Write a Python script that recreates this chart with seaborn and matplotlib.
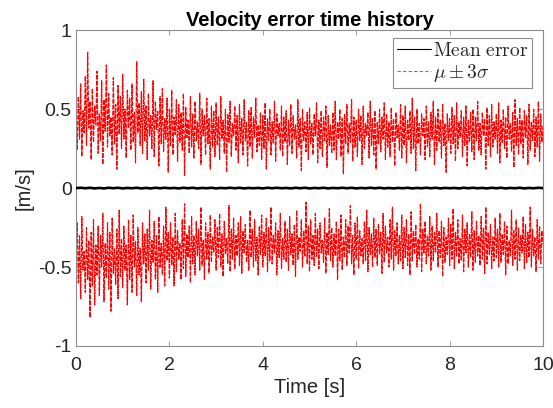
import numpy as np
import pandas as pd
import matplotlib
matplotlib.use("Agg")
import matplotlib.pyplot as plt
from matplotlib.lines import Line2D
import seaborn as sns

# ---- data, values in hundredths of m/s ----
dt_band = 0.025
upper_cm = [
    42, 24, 58, 31, 66, 20, 49, 35, 71, 27, 86, 38, 55, 18, 63, 29, 52, 40, 74, 22,
    47, 30, 68, 15, 56, 36, 78, 26, 60, 33, 45, 21, 70, 28, 53, 12, 65, 34, 58, 25,
    72, 31, 50, 19, 62, 38, 57, 24, 66, 29, 48, 16, 80, 35, 54, 27, 61, 22, 69, 30,
    52, 18, 60, 33, 46, 25, 68, 20, 55, 37, 49, 14, 58, 28, 63, 23, 44, 31, 57, 10,
    50, 27, 62, 21, 45, 34, 56, 17, 53, 29, 48, 24, 60, 8, 51, 32, 43, 22, 58, 26,
    47, 19, 55, 30, 42, 25, 60, 15, 50, 33, 46, 21, 57, 28, 44, 12, 52, 26, 49, 20,
    54, 27, 45, 18, 58, 31, 43, 22, 50, 10, 47, 29, 55, 20, 41, 33, 52, 24, 46, 16,
    53, 28, 44, 21, 56, 30, 42, 14, 49, 26, 51, 19, 45, 32, 57, 23, 40, 27, 48, 18,
    46, 25, 54, 12, 44, 30, 50, 21, 42, 28, 55, 17, 47, 33, 41, 24, 52, 20, 45, 29,
    49, 15, 43, 27, 53, 22, 46, 31, 40, 19, 56, 26, 44, 11, 50, 30, 42, 23, 48, 18,
    51, 28, 41, 21, 47, 33, 54, 16, 43, 25, 49, 20, 45, 30, 52, 13, 46, 27, 40, 22,
    48, 24, 55, 18, 42, 31, 50, 20, 44, 9, 47, 28, 53, 22, 41, 29, 56, 17, 45, 26,
    43, 20, 50, 30, 46, 15, 52, 25, 41, 33, 48, 19, 55, 27, 44, 21, 49, 12, 42, 28,
    50, 23, 45, 31, 54, 18, 47, 26, 42, 20, 51, 29, 44, 14, 48, 32, 40, 24, 53, 19,
    46, 27, 52, 16, 43, 30, 49, 22, 57, 25, 45, 11, 50, 28, 41, 21, 47, 33, 44, 18,
    52, 26, 42, 20, 48, 31, 55, 15, 45, 24, 50, 29, 43, 19, 53, 27, 41, 10, 47, 30,
    44, 22, 51, 28, 46, 17, 54, 25, 42, 32, 49, 20, 45, 27, 52, 14, 43, 29, 48, 23,
    50, 18, 45, 30, 55, 24, 41, 21, 48, 33, 44, 12, 51, 27, 46, 20, 53, 26, 42, 31,
    47, 22, 54, 16, 43, 29, 50, 25, 45, 19, 52, 31, 41, 23, 48, 13, 56, 27, 44, 21,
    51, 28, 43, 19, 49, 32, 46, 15, 53, 24, 42, 30, 50, 20, 45, 26, 55, 17, 47, 29,
    40]
lower_cm = [
    -38, -22, -60, -30, -70, -18, -52, -40, -66, -25, -58, -33, -82, -28, -62, -20, -74, -36, -55, -24,
    -68, -30, -50, -16, -72, -35, -57, -22, -64, -28, -78, -19, -54, -38, -61, -26, -70, -14, -56, -32,
    -63, -24, -52, -36, -74, -20, -58, -30, -66, -17, -50, -34, -68, -25, -55, -38, -72, -22, -48, -29,
    -60, -26, -52, -14, -64, -33, -47, -21, -58, -30, -66, -18, -50, -35, -55, -24, -62, -12, -46, -28,
    -57, -22, -49, -31, -62, -16, -53, -27, -45, -35, -58, -20, -51, -10, -56, -29, -44, -24, -60, -18,
    -48, -30, -55, -21, -43, -26, -52, -12, -49, -33, -58, -22, -45, -28, -54, -17, -47, -31, -41, -20,
    -52, -25, -44, -16, -50, -29, -56, -21, -42, -32, -48, -11, -53, -26, -45, -19, -51, -30, -43, -22,
    -49, -18, -54, -27, -41, -23, -47, -33, -52, -14, -44, -26, -50, -20, -46, -31, -55, -24, -42, -17,
    -50, -28, -43, -19, -53, -25, -46, -12, -48, -30, -41, -22, -55, -27, -44, -16, -51, -32, -45, -21,
    -47, -26, -52, -18, -42, -29, -49, -23, -56, -14, -45, -31, -40, -20, -50, -27, -43, -9, -48, -24,
    -53, -20, -45, -30, -49, -16, -44, -26, -51, -22, -41, -33, -47, -19, -54, -28, -42, -13, -46, -25,
    -50, -29, -43, -21, -58, -26, -46, -17, -52, -31, -44, -20, -49, -24, -41, -11, -48, -30, -55, -22,
    -45, -18, -51, -27, -43, -32, -48, -21, -46, -14, -53, -25, -42, -29, -50, -19, -44, -26, -49, -23,
    -42, -28, -54, -16, -47, -24, -41, -31, -50, -20, -45, -12, -52, -27, -43, -22, -48, -30, -46, -17,
    -51, -25, -44, -20, -49, -29, -55, -15, -46, -27, -42, -23, -50, -32, -45, -10, -53, -26, -41, -21,
    -48, -30, -43, -18, -52, -24, -46, -28, -41, -16, -50, -27, -44, -21, -56, -25, -47, -31, -42, -19,
    -49, -23, -45, -13, -51, -28, -43, -20, -48, -32, -46, -17, -53, -26, -41, -22, -50, -29, -44, -15,
    -52, -27, -47, -21, -43, -30, -49, -18, -45, -25, -54, -12, -48, -28, -42, -23, -51, -31, -46, -19,
    -44, -26, -50, -16, -47, -29, -42, -21, -55, -24, -48, -33, -43, -14, -49, -27, -45, -20, -52, -25,
    -46, -30, -41, -18, -51, -23, -47, -28, -44, -12, -50, -26, -43, -31, -53, -20, -45, -24, -48, -27,
    -36]
# mean error, thousandths of m/s
dt_mean = 0.1
mean_mm = [0, 2, -1, 2, -2, 1, -2, 2, -1, 2,
           -2, 1, -1, 2, -2, 1, -2, 2, -1, 2,
           -1, 1, -2, 2, -1, 2, -2, 1, -1, 2,
           -2, 1, -1, 2, -1, 2, -2, 1, -1, 1,
           -2, 2, -1, 2, -1, 1, -2, 2, -1, 2,
           -2, 1, -1, 2, -2, 1, -1, 2, -1, 2,
           -2, 1, -1, 2, -1, 2, -2, 1, -2, 1,
           -1, 2, -2, 1, -1, 2, -1, 2, -2, 1,
           -1, 1, -2, 2, -1, 2, -1, 1, -2, 2,
           -1, 2, -2, 1, -1, 2, -2, 1, -1, 2, 0]

title = "Velocity error time history"
xlabel = "Time [s]"
ylabel = "[m/s]"
xticks = [0, 2, 4, 6, 8, 10]
yticks = [-1, -0.5, 0, 0.5, 1]
ytick_labels = ["-1", "-0.5", "0", "0.5", "1"]
legend_labels = [r"$\mathrm{Mean\ error}$", r"$\mu \pm 3\sigma$"]

t_band = np.arange(len(upper_cm)) * dt_band
t_mean = np.arange(len(mean_mm)) * dt_mean
band = pd.DataFrame({"t": t_band,
                     "upper": np.array(upper_cm) / 100.0,
                     "lower": np.array(lower_cm) / 100.0})
mean_df = pd.DataFrame({"t": t_mean, "mean": np.array(mean_mm) / 1000.0})

# ---- style ----
sns.set_theme(style="white")
plt.rcParams["font.family"] = ["Liberation Sans", "DejaVu Sans"]
plt.rcParams["mathtext.fontset"] = "cm"

fig = plt.figure(figsize=(5.53, 4.08), dpi=100)
ax = fig.add_axes([0.1374, 0.152, 0.8446, 0.774])

gray = "#8c8c8c"
txt = "#262626"
red = "#ff0000"
dash = (0, (4, 1.0))
sns.lineplot(data=band, x="t", y="upper", ax=ax, color=red, lw=0.85,
             linestyle=dash, zorder=2)
sns.lineplot(data=band, x="t", y="lower", ax=ax, color=red, lw=0.85,
             linestyle=dash, zorder=2)
sns.lineplot(data=mean_df, x="t", y="mean", ax=ax, color="black", lw=1.9,
             zorder=3)

ax.set_xlim(0, 10)
ax.set_ylim(-1, 1)
ax.set_xticks(xticks)
ax.set_xticklabels([str(v) for v in xticks])
ax.set_yticks(yticks)
ax.set_yticklabels(ytick_labels)
ax.tick_params(direction="in", length=3.5, width=0.6, color=gray,
               labelcolor=txt, labelsize=14,
               top=True, right=True, bottom=True, left=True)
ax.tick_params(axis="x", pad=8)
ax.tick_params(axis="y", pad=3)
for s in ax.spines.values():
    s.set_color(gray)
    s.set_linewidth(0.8)

ax.set_title(title, fontsize=14.5, fontweight="bold", color="black", pad=3)
ax.set_xlabel(xlabel, fontsize=14.5, color=txt, labelpad=3)
ax.set_ylabel(ylabel, fontsize=14.5, color=txt, labelpad=3)

handles = [Line2D([], [], color="black", lw=0.8),
           Line2D([], [], color="#ff4040", lw=0.8, linestyle=(0, (3, 2)))]
leg = ax.legend(handles, legend_labels,
                loc="upper right", bbox_to_anchor=(0.977, 0.975),
                borderaxespad=0, fontsize=14, frameon=True, fancybox=False,
                edgecolor=gray, framealpha=1, borderpad=0.2,
                handlelength=1.75, handletextpad=0.1, labelspacing=0.1)
leg.get_frame().set_linewidth(0.8)

fig.savefig("out.png", dpi=100)
